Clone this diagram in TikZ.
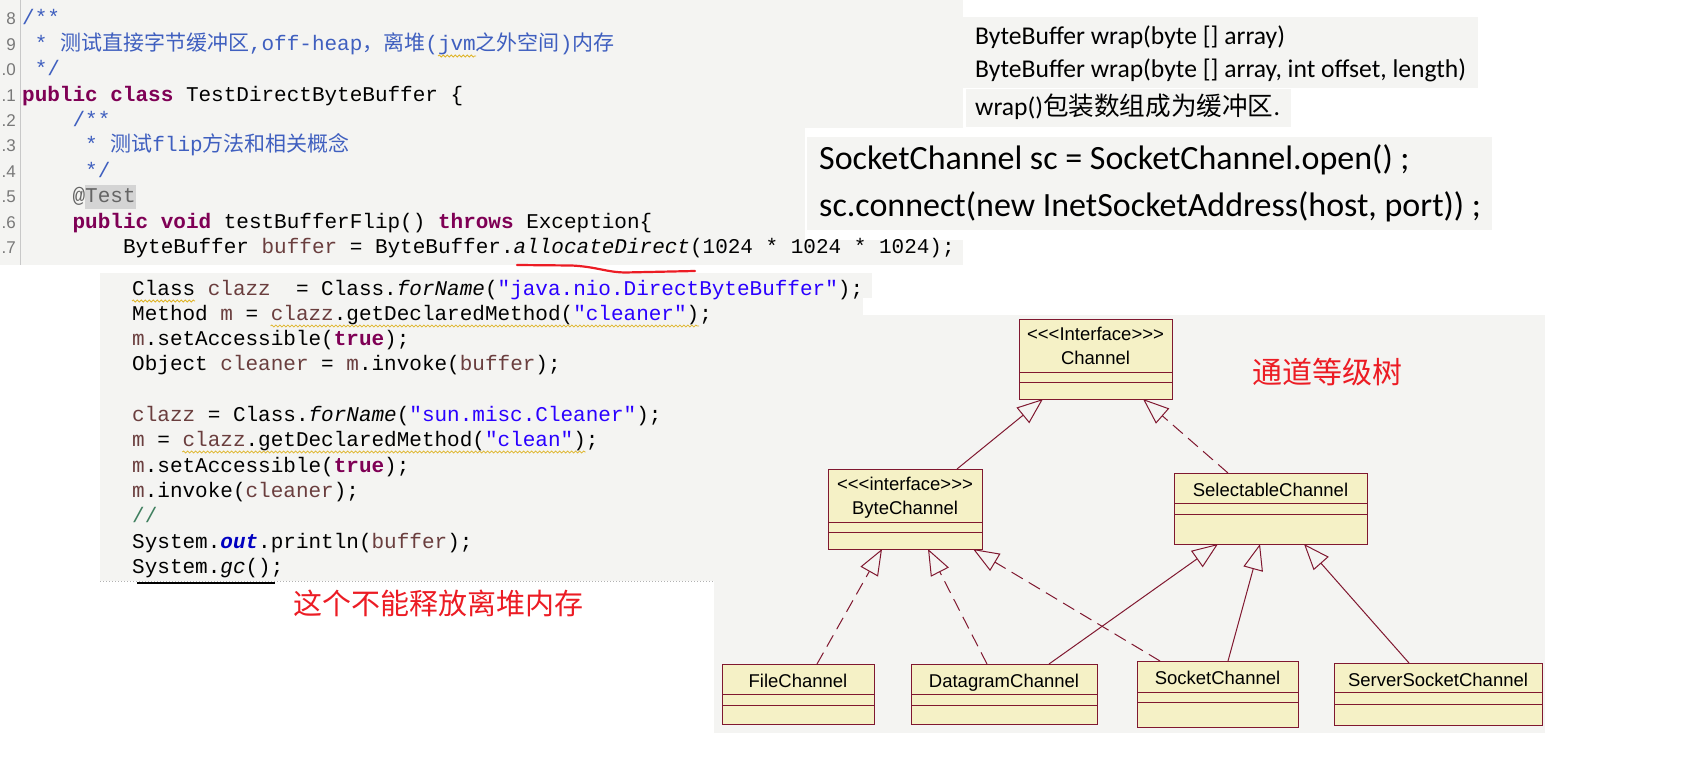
\documentclass[tikz,border=0pt]{standalone}
\usepackage{fontspec}
\usetikzlibrary{arrows.meta,decorations.pathmorphing}

\newfontfamily\codefont{Liberation Mono}
\newfontfamily\cjk{Noto Sans CJK SC}
\newfontfamily\notefont{Carlito}
\newfontfamily\umlfont{Liberation Sans}

\definecolor{paper}{RGB}{244,244,242}
\definecolor{gutter}{RGB}{200,200,200}
\definecolor{numgray}{RGB}{120,120,120}
\definecolor{kwcol}{RGB}{127,0,85}
\definecolor{doccol}{RGB}{63,95,191}
\definecolor{strcol}{RGB}{42,0,255}
\definecolor{varcol}{RGB}{106,62,62}
\definecolor{fieldcol}{RGB}{0,0,192}
\definecolor{linecom}{RGB}{63,127,95}
\definecolor{annocol}{RGB}{100,100,100}
\definecolor{hlgray}{RGB}{212,212,212}
\definecolor{squig}{RGB}{222,180,40}
\definecolor{umlfill}{RGB}{245,241,198}
\definecolor{umlred}{RGB}{128,24,48}
\definecolor{marker}{RGB}{236,28,36}

\newcommand\kw[1]{{\bfseries\color{kwcol}#1}}
\newcommand\jvar[1]{{\color{varcol}#1}}
\newcommand\jstr[1]{{\color{strcol}#1}}

\begin{document}
\begin{tikzpicture}[
  x=1pt, y=-1pt,
  codeline/.style={anchor=base west, inner sep=0pt, font=\codefont\fontsize{21}{25}\selectfont},
  docline/.style={codeline, text=doccol},
  lnum/.style={anchor=base east, inner sep=0pt, text=numgray, font=\umlfont\fontsize{17}{17}\selectfont},
  note/.style={anchor=base west, inner sep=0pt, font=\notefont\fontsize{25.6}{30}\selectfont},
  bignote/.style={note, font=\notefont\fontsize{34}{40}\selectfont},
  marktext/.style={text=marker, inner sep=0pt, font=\cjk\fontsize{#1}{#1}\selectfont},
  umlbox/.style={draw=umlred, fill=umlfill, line width=1pt, inner sep=0pt, outer sep=0pt, anchor=north west},
  umltext/.style={anchor=base, inner sep=0pt, font=\umlfont\fontsize{18.5}{24}\selectfont},
  umlsep/.style={draw=umlred, line width=1pt},
  generalize/.style={draw=umlred, line width=1pt, -{Triangle[open, length=26pt, width=20pt]}},
  realize/.style={generalize, dash pattern=on 13pt off 7pt},
  squiggle/.style={draw=squig, line width=0.8pt, decorate, decoration={snake, amplitude=1pt, segment length=4pt}}
]

\fill[white] (0,0) rectangle (1691,778);
\useasboundingbox (0,0) rectangle (1691,778);

% editor and slide panels
\fill[paper] (0,0) rectangle (963,265);
\draw[gutter] (20,0) -- (20,265);
\fill[white] (805,128) rectangle (1495,240);
\fill[paper] (963,17) rectangle (1478,88);
\fill[paper] (966,89) rectangle (1291,127);
\fill[paper] (807,137) rectangle (1492,230);
\fill[paper] (100,273) rectangle (863,581);
\fill[paper] (100,273) rectangle (872,298);
\fill[paper] (714,315) rectangle (1545,733);

% first listing
\foreach \n [count=\i from 0] in {8,9,.0,.1,.2,.3,.4,.5,.6,.7}
  \node[lnum] (n\i) at (16,25+25.4*\i) {\n};

\node[docline] (c0) at (22,25) {/**};
\node[docline] (c1) at (34.6,50.4) {* {\cjk 测试直接字节缓冲区},off-heap{\cjk ，离堆}(jvm{\cjk 之外空间}){\cjk 内存}};
\node[docline] (c2) at (34.6,75.8) {*/};
\node[codeline] (c3) at (22,101.2) {\kw{public class} TestDirectByteBuffer \{};
\node[docline] (c4) at (72.4,126.6) {/**};
\node[docline] (c5) at (85,152) {* {\cjk 测试}flip{\cjk 方法和相关概念}};
\node[docline] (c6) at (85,177.4) {*/};
\fill[hlgray] (85,185) rectangle (136,209);
\node[codeline, text=annocol] (c7) at (72.4,202.8) {@Test};
\node[codeline] (c8) at (72.4,228.2) {\kw{public void} testBufferFlip() \kw{throws} Exception\{};
\node[codeline] (c9) at (122.8,253.6) {ByteBuffer \jvar{buffer} = ByteBuffer.{\itshape allocateDirect}(1024 * 1024 * 1024);};
\draw[squiggle] (438,56) -- (476,56);
\draw[marker, line width=2.2pt, line cap=round] (517,265) -- (572,265.5)
  .. controls (598,267) and (605,272) .. (625,272.5) -- (695,271);

% second listing
\node[codeline] (d0) at (132,295) {Class \jvar{clazz}\ \ = Class.{\itshape forName}(\jstr{"java.nio.DirectByteBuffer"});};
\node[codeline] (d1) at (132,320.3) {Method \jvar{m} = \jvar{clazz}.getDeclaredMethod(\jstr{"cleaner"});};
\node[codeline] (d2) at (132,345.6) {\jvar{m}.setAccessible(\kw{true});};
\node[codeline] (d3) at (132,370.9) {Object \jvar{cleaner} = \jvar{m}.invoke(\jvar{buffer});};
\node[codeline] (d5) at (132,421.5) {\jvar{clazz} = Class.{\itshape forName}(\jstr{"sun.misc.Cleaner"});};
\node[codeline] (d6) at (132,446.8) {\jvar{m} = \jvar{clazz}.getDeclaredMethod(\jstr{"clean"});};
\node[codeline] (d7) at (132,472.1) {\jvar{m}.setAccessible(\kw{true});};
\node[codeline] (d8) at (132,497.4) {\jvar{m}.invoke(\jvar{cleaner});};
\node[codeline, text=linecom] (d9) at (132,522.7) {//};
\node[codeline] (d10) at (132,548) {System.{\bfseries\itshape\color{fieldcol}out}.println(\jvar{buffer});};
\node[codeline] (d11) at (132,573.3) {System.{\itshape gc}();};
\draw[squiggle] (132,301) -- (195,301);
\draw[squiggle] (270.6,326) -- (699,326);
\draw[squiggle] (182.4,452) -- (585.6,452);
\draw[gray!60, dotted, line width=1pt] (100,581) -- (714,581);
\draw[line width=2.5pt] (137,583) -- (275,583);
\node[marktext=29] (nofree) at (438,603) {这个不能释放离堆内存};

% slide notes
\node[note] (wrap1) at (975,45) {ByteBuffer wrap(byte [] array)};
\node[note] (wrap2) at (975,78) {ByteBuffer wrap(byte [] array, int offset, length)};
\node[note] (wrap3) at (975,116) {wrap(){\cjk 包装数组成为缓冲区}.};
\node[bignote] (open) at (819,170) {SocketChannel sc = SocketChannel.open() ;};
\node[bignote] (connect) at (819,216) {sc.connect(new InetSocketAddress(host, port)) ;};

% channel hierarchy
\node[marktext=30] (tree) at (1327,372) {通道等级树};

\node[umlbox, minimum width=153pt, minimum height=80pt] (chan) at (1019,319) {};
\node[umltext] (chan-st) at (1095.5,340.5) {<<<Interface>>>};
\node[umltext] (chan-lbl) at (1095.5,364.5) {Channel};
\draw[umlsep] ([yshift=-53pt]chan.north west) -- ([yshift=-53pt]chan.north east)
              ([yshift=-63pt]chan.north west) -- ([yshift=-63pt]chan.north east);

\node[umlbox, minimum width=154pt, minimum height=80pt] (bc) at (828,469) {};
\node[umltext] (bc-st) at (905,490.5) {<<<interface>>>};
\node[umltext] (bc-lbl) at (905,514.5) {ByteChannel};
\draw[umlsep] ([yshift=-53pt]bc.north west) -- ([yshift=-53pt]bc.north east)
              ([yshift=-63pt]bc.north west) -- ([yshift=-63pt]bc.north east);

\foreach \nm/\x/\y/\w/\h/\sa/\sb/\lbl in {
    sel/1174/473/193/71/30/41/SelectableChannel,
    file/722/664/152/60/30/41/FileChannel,
    dgram/911/664/186/60/30/41/DatagramChannel,
    sock/1137/661/161/66/31/41/SocketChannel,
    ssock/1334/663/208/62/29/41/ServerSocketChannel} {
  \node[umlbox, minimum width=\w pt, minimum height=\h pt] (\nm) at (\x,\y) {};
  \node[umltext] (\nm-lbl) at (\x+\w/2,\y+23) {\lbl};
  \draw[umlsep] ([yshift=-\sa pt]\nm.north west) -- ([yshift=-\sa pt]\nm.north east)
                ([yshift=-\sb pt]\nm.north west) -- ([yshift=-\sb pt]\nm.north east);
}

\draw[generalize] ([xshift=129pt]bc.north west) -- ([xshift=24pt]chan.south west);
\draw[realize] ([xshift=54pt]sel.north west) -- ([xshift=124pt]chan.south west);
\draw[realize] ([xshift=95pt]file.north west) -- ([xshift=54pt]bc.south west);
\draw[realize] ([xshift=76pt]dgram.north west) -- ([xshift=100pt]bc.south west);
\draw[realize] ([xshift=23pt]sock.north west) -- ([xshift=145pt]bc.south west);
\draw[generalize] ([xshift=138pt]dgram.north west) -- ([xshift=44pt]sel.south west);
\draw[generalize] ([xshift=91pt]sock.north west) -- ([xshift=86pt]sel.south west);
\draw[generalize] ([xshift=75pt]ssock.north west) -- ([xshift=130pt]sel.south west);

\end{tikzpicture}
\end{document}
